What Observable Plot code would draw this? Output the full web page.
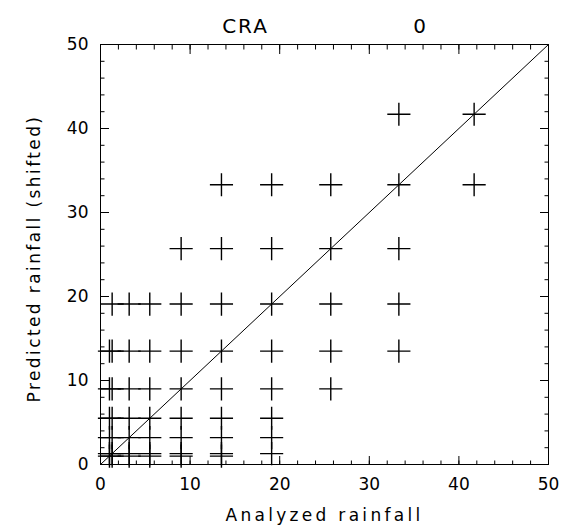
<!DOCTYPE html>
<html>
<head>
<meta charset="utf-8">
<script src="https://cdn.jsdelivr.net/npm/d3@7"></script>
<script src="https://cdn.jsdelivr.net/npm/@observablehq/plot@0.6"></script>
<style>
  html, body { margin: 0; padding: 0; background: white; }
</style>
</head>
<body>
<div id="chart"></div>
<script>
// Threshold levels (same for analyzed and predicted rainfall)
const levels = [1.0, 1.3, 3.2, 5.5, 9.0, 13.5, 19.1, 25.7, 33.3, 41.7];
// For each predicted level (row), indices of analyzed levels that occur
const rowCols = [
  [0, 1, 2, 3, 4, 5],          // predicted 1.0
  [0, 1, 2, 3, 4, 5, 6],       // predicted 1.3
  [0, 1, 2, 3, 4, 5, 6],       // predicted 3.2
  [0, 1, 2, 3, 4, 5, 6],       // predicted 5.5
  [0, 1, 2, 3, 4, 5, 6, 7],    // predicted 9.0
  [0, 1, 2, 3, 4, 5, 6, 7, 8], // predicted 13.5
  [1, 2, 3, 4, 5, 6, 7, 8],    // predicted 19.1
  [4, 5, 6, 7, 8],             // predicted 25.7
  [5, 6, 7, 8, 9],             // predicted 33.3
  [8, 9]                       // predicted 41.7
];
const diagonal = [0, 50];
const majorTicks = [0, 10, 20, 30, 40, 50];
const minorTicks = [0, 2, 4, 6, 8, 10, 12, 14, 16, 18, 20, 22, 24, 26, 28, 30, 32, 34, 36, 38, 40, 42, 44, 46, 48, 50];
const titles = ["CRA", "0"];
const xLabel = "Analyzed rainfall";
const yLabel = "Predicted rainfall (shifted)";

const points = [];
rowCols.forEach((cols, r) => cols.forEach(c => points.push({analyzed: levels[c], predicted: levels[r]})));

const font = "DejaVu Sans";
const W = 572, H = 527, ML = 100, MR = 24, MT = 44, MB = 63;
const fh = H - MT - MB;
const majorLen = 9, minorLen = 4.5;
const none = () => "";

const chart = Plot.plot({
  width: W,
  height: H,
  marginLeft: ML,
  marginRight: MR,
  marginTop: MT,
  marginBottom: MB,
  style: {fontFamily: font, fontSize: "17px", background: "white"},
  x: {domain: [0, 50]},
  y: {domain: [0, 50]},
  marks: [
    Plot.frame({stroke: "black", strokeWidth: 1}),
    // tick labels
    Plot.axisX({anchor: "bottom", ticks: majorTicks, tickSize: 0, tickPadding: 13, tickFormat: d => String(d), label: null}),
    Plot.axisY({anchor: "left", ticks: majorTicks, tickSize: 0, tickPadding: 12, tickFormat: d => String(d), label: null}),
    // inward ticks: bottom (drawn upward from the bottom edge)
    Plot.axisX({anchor: "top", ticks: majorTicks, tickSize: majorLen, dy: fh, tickFormat: none, label: null, stroke: "black"}),
    Plot.axisX({anchor: "top", ticks: minorTicks, tickSize: minorLen, dy: fh, tickFormat: none, label: null, stroke: "black"}),
    // top
    Plot.axisX({anchor: "top", ticks: majorTicks, tickSize: -majorLen, tickFormat: none, label: null, stroke: "black"}),
    Plot.axisX({anchor: "top", ticks: minorTicks, tickSize: -minorLen, tickFormat: none, label: null, stroke: "black"}),
    // left
    Plot.axisY({anchor: "left", ticks: majorTicks, tickSize: -majorLen, tickFormat: none, label: null, stroke: "black"}),
    Plot.axisY({anchor: "left", ticks: minorTicks, tickSize: -minorLen, tickFormat: none, label: null, stroke: "black"}),
    // right
    Plot.axisY({anchor: "right", ticks: majorTicks, tickSize: -majorLen, tickFormat: none, label: null, stroke: "black"}),
    Plot.axisY({anchor: "right", ticks: minorTicks, tickSize: -minorLen, tickFormat: none, label: null, stroke: "black"}),
    // 1:1 line
    Plot.line(diagonal, {x: d => d, y: d => d, stroke: "black", strokeWidth: 1}),
    // crosses
    Plot.dot(points, {x: "analyzed", y: "predicted", symbol: "plus", r: 7.5, stroke: "black", strokeWidth: 1.4}),
    // axis titles
    Plot.text([xLabel], {frameAnchor: "bottom", dy: 56, lineAnchor: "bottom", textAnchor: "middle", text: d => d, fill: "black", fontSize: 17}),
    Plot.text([yLabel], {frameAnchor: "left", dx: -66, dy: 4, rotate: -90, textAnchor: "middle", text: d => d, fill: "black", fontSize: 17}),
    // titles above the frame
    Plot.text([titles[0]], {frameAnchor: "top", dx: -79, dy: -26, textAnchor: "middle", text: d => d, fontSize: 20, fill: "black"}),
    Plot.text([titles[1]], {frameAnchor: "top", dx: 95, dy: -26, textAnchor: "middle", text: d => d, fontSize: 20, fill: "black"})
  ]
});
// Widen the letter spacing of the axis titles to match the wide stroke font of the original
chart.querySelectorAll("text").forEach(t => {
  const s = t.textContent;
  if (s === xLabel) t.setAttribute("letter-spacing", "3.3");
  else if (s === yLabel) t.setAttribute("letter-spacing", "2.4");
  else if (s === titles[0]) t.setAttribute("letter-spacing", "2");
});
document.getElementById("chart").appendChild(chart);
</script>
</body>
</html>
